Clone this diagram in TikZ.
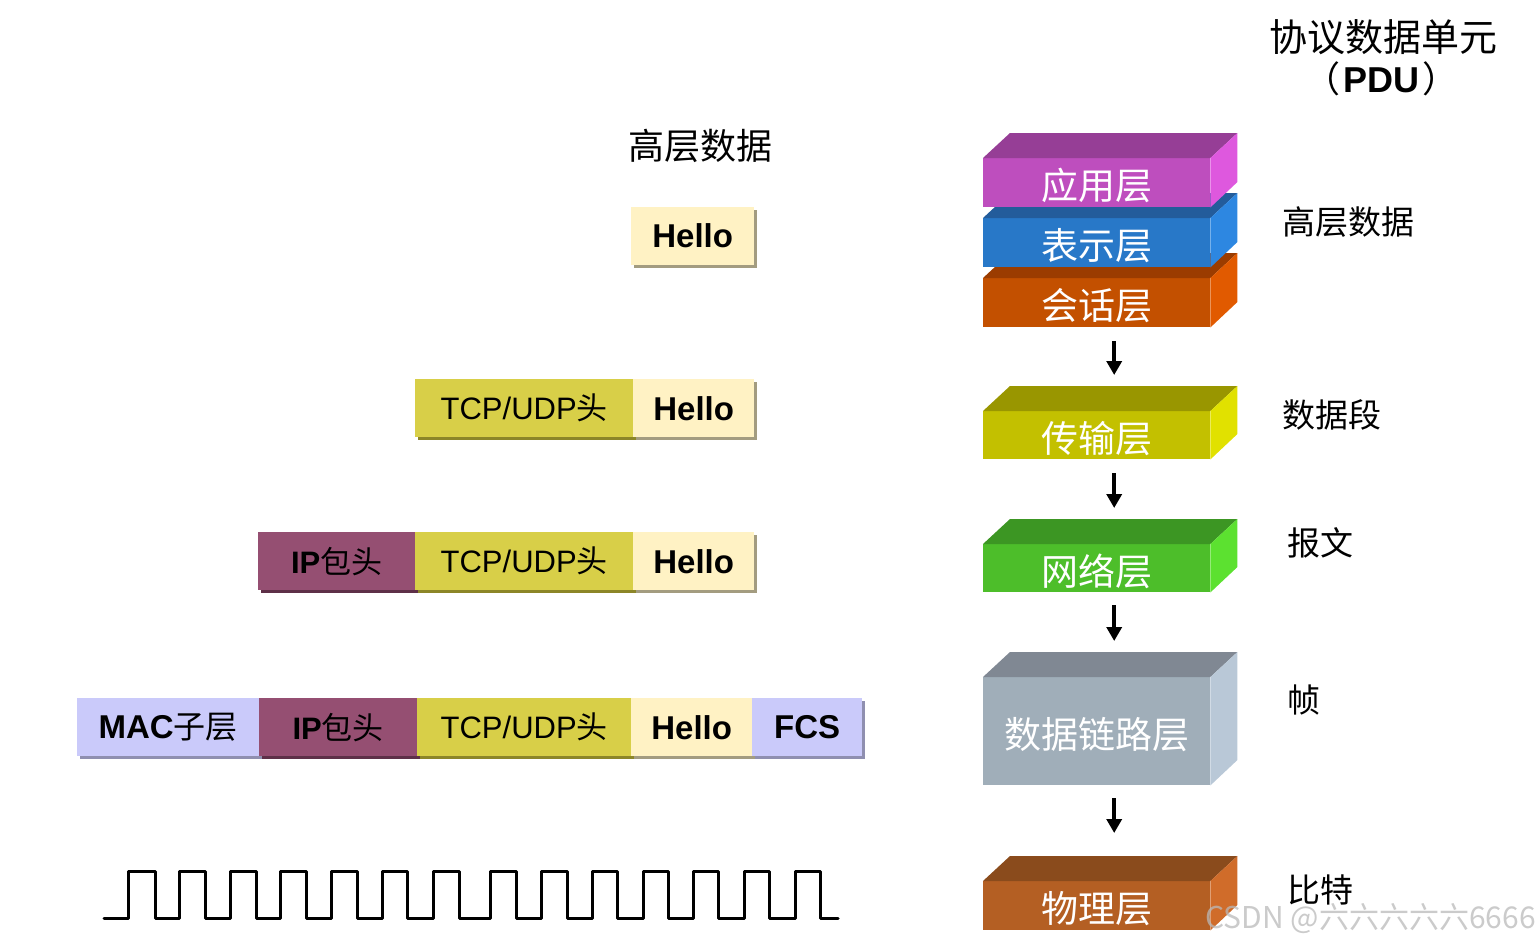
\documentclass[tikz,border=0pt]{standalone}
\usepackage{fontspec}
\setmainfont{Liberation Sans}
\newfontfamily\zhfont{Noto Sans CJK SC}
\usetikzlibrary{arrows.meta,calc}
\definecolor{hellocol}{HTML}{FFF2C4}
\definecolor{helloshd}{HTML}{A39C80}
\definecolor{tcpcol}{HTML}{D8CF48}
\definecolor{tcpshd}{HTML}{8C8628}
\definecolor{ipcol}{HTML}{954F72}
\definecolor{ipshd}{HTML}{5E3048}
\definecolor{maccol}{HTML}{CACAFA}
\definecolor{macshd}{HTML}{8F8FB0}
\definecolor{appF}{HTML}{BE4EBE}\definecolor{appT}{HTML}{963E96}\definecolor{appS}{HTML}{DE58DE}
\definecolor{preF}{HTML}{2878C8}\definecolor{preT}{HTML}{235C9B}\definecolor{preS}{HTML}{2D87E1}
\definecolor{sesF}{HTML}{C35000}\definecolor{sesT}{HTML}{9B3C00}\definecolor{sesS}{HTML}{E15A00}
\definecolor{traF}{HTML}{C3C000}\definecolor{traT}{HTML}{999600}\definecolor{traS}{HTML}{E1E100}
\definecolor{netF}{HTML}{4DBE2A}\definecolor{netT}{HTML}{3C9623}\definecolor{netS}{HTML}{5CE130}
\definecolor{dlkF}{HTML}{A0AEB9}\definecolor{dlkT}{HTML}{808893}\definecolor{dlkS}{HTML}{B9C8D7}
\definecolor{phyF}{HTML}{B45F23}\definecolor{phyT}{HTML}{8A4B1C}\definecolor{phyS}{HTML}{D06C2A}
\newcommand\pktfont{\fontsize{31}{34}\selectfont}
\newcommand\bigb[1]{{\fontsize{33}{36}\selectfont\textbf{#1}}}
\newcommand\osilayer[7]{%
  \node[layerfront, fill=#4, minimum height=#3pt, anchor=north west] (#1) at (983,#2) {};
  \fill[#5] (#1.north west) -- ++(27,-25) -- ([shift={(27,-25)}]#1.north east) -- (#1.north east) -- cycle;
  \fill[#6] (#1.north east) -- ++(27,-25) -- ++(0,#3) -- (#1.south east) -- cycle;
  \node[layertext] (#1t) at ([yshift=-3pt]#1.center) {#7};
}
\begin{document}
\begin{tikzpicture}[x=1pt,y=-1pt,
  pkt/.style={minimum height=58pt, inner sep=0pt, anchor=north west, font=\pktfont, text=black},
  shd/.style={preaction={fill=#1, transform canvas={shift={(2.5pt,-2.5pt)}}}},
  layerfront/.style={minimum width=227pt, inner sep=0pt, draw=none},
  layertext/.style={text=white, font=\zhfont\fontsize{37}{40}\selectfont, inner sep=0pt},
  pdulabel/.style={anchor=west, font=\zhfont\fontsize{33}{36}\selectfont, inner sep=0pt},
  arr/.style={-{Triangle[width=15pt,length=14pt]}, line width=3.5pt}]
\useasboundingbox (0,0) rectangle (1539,945);

% title
\node[font=\zhfont\fontsize{38}{42}\selectfont, inner sep=0pt] (title) at (1383,37) {协议数据单元};
\node[font=\fontsize{36}{40}\selectfont, inner sep=0pt] (pdu) at (1381,79) {{\zhfont （}\hspace{3pt}\textbf{PDU}\hspace{3pt}{\zhfont ）}};

% left heading
\node[font=\zhfont\fontsize{36}{40}\selectfont, inner sep=0pt] (hd) at (700,146) {高层数据};

% packets
\node[pkt, fill=hellocol, shd=helloshd, minimum width=123pt] (h1) at (631,207) {\bigb{Hello}};

\node[pkt, fill=tcpcol, shd=tcpshd, minimum width=218pt] (t2) at (415,379) {TCP/UDP{\zhfont 头}};
\node[pkt, fill=hellocol, shd=helloshd, minimum width=121pt] (h2) at (633,379) {\bigb{Hello}};

\node[pkt, fill=ipcol, shd=ipshd, minimum width=157pt] (i3) at (258,532) {\textbf{IP}{\zhfont 包头}};
\node[pkt, fill=tcpcol, shd=tcpshd, minimum width=218pt] (t3) at (415,532) {TCP/UDP{\zhfont 头}};
\node[pkt, fill=hellocol, shd=helloshd, minimum width=121pt] (h3) at (633,532) {\bigb{Hello}};

\node[pkt, fill=maccol, shd=macshd, minimum width=182pt] (m4) at (77,698) {\bigb{MAC}{\zhfont\fontsize{32}{35}\selectfont 子层}};
\node[pkt, fill=ipcol, shd=ipshd, minimum width=158pt] (i4) at (259,698) {\textbf{IP}{\zhfont 包头}};
\node[pkt, fill=tcpcol, shd=tcpshd, minimum width=214pt] (t4) at (417,698) {TCP/UDP{\zhfont 头}};
\node[pkt, fill=hellocol, shd=helloshd, minimum width=121pt] (h4) at (631,698) {\bigb{Hello}};
\node[pkt, fill=maccol, shd=macshd, minimum width=110pt] (f4) at (752,698) {\bigb{FCS}};

% bit signal
\draw[line width=3pt, line join=round, line cap=round] (104,918)
  foreach \a/\b in {128/155,179/205,230/256,280/306,331/357,382/407,433/459,490/516,541/567,592/617,643/668,693/718,744/769,795/820}
  { -- (\a,918) -- (\a,871) -- (\b,871) -- (\b,918) } -- (838,918);

% OSI layers
\osilayer{sess}{278}{49}{sesF}{sesT}{sesS}{会话层}
\osilayer{pres}{218}{49}{preF}{preT}{preS}{表示层}
\osilayer{app}{158}{49}{appF}{appT}{appS}{应用层}
\osilayer{trans}{411}{48}{traF}{traT}{traS}{传输层}
\osilayer{net}{544}{48}{netF}{netT}{netS}{网络层}
\osilayer{dlink}{677}{108}{dlkF}{dlkT}{dlkS}{数据链路层}
\osilayer{phys}{881}{49}{phyF}{phyT}{phyS}{物理层}

\draw[arr, shorten <=14pt, shorten >=36pt] ([xshift=17.5pt]sess.south) -- ([xshift=17.5pt]trans.north);
\draw[arr, shorten <=14pt, shorten >=36pt] ([xshift=17.5pt]trans.south) -- ([xshift=17.5pt]net.north);
\draw[arr, shorten <=13pt, shorten >=36pt] ([xshift=17.5pt]net.south) -- ([xshift=17.5pt]dlink.north);
\draw[arr, shorten <=13pt, shorten >=48pt] ([xshift=17.5pt]dlink.south) -- ([xshift=17.5pt]phys.north);

% PDU labels
\node[pdulabel] (l1) at (1282,222) {高层数据};
\node[pdulabel] (l2) at (1282,415) {数据段};
\node[pdulabel] (l3) at (1287,543) {报文};
\node[pdulabel] (l4) at (1287,700) {帧};
\node[pdulabel] (l5) at (1287,890) {比特};

% watermark
\node[anchor=east, text=gray!55, opacity=0.75, font=\zhfont\fontsize{30}{32}\selectfont, inner sep=0pt] (wm) at (1536,919) {CSDN @六六六六六6666};
\end{tikzpicture}
\end{document}
